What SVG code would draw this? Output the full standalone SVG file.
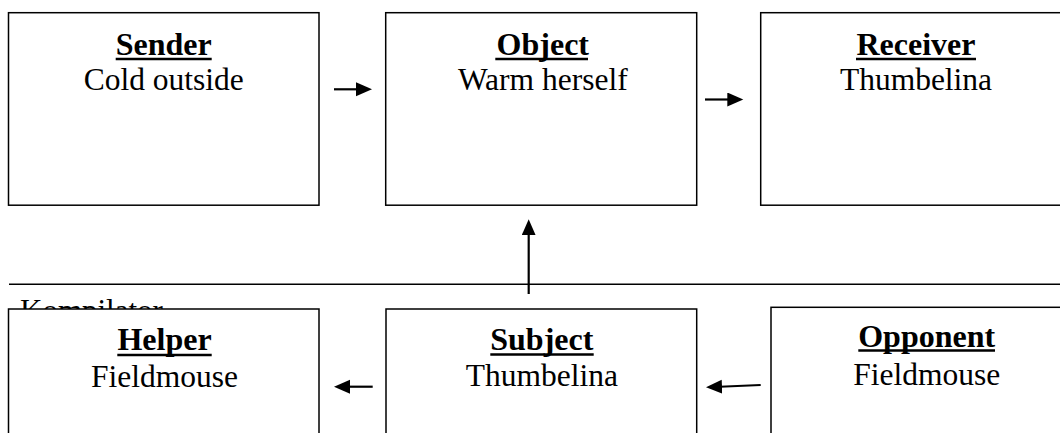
<svg xmlns="http://www.w3.org/2000/svg" width="1060" height="433" viewBox="0 0 1060 433">
  <style>
    .box { fill: #fff; stroke: #000; stroke-width: 1.5; }
    .title { font-family: "Liberation Serif", "Times New Roman", serif; font-weight: bold; font-size: 32px; fill: #000; text-anchor: middle; }
    .body { font-family: "Liberation Serif", "Times New Roman", serif; font-size: 31.5px; fill: #000; text-anchor: middle; }
    .note { font-family: "Liberation Serif", "Times New Roman", serif; font-size: 31px; fill: #000; }
    .ul { stroke: #000; stroke-width: 2.6; }
    .rule { stroke: #000; stroke-width: 1.4; }
    .arrow { stroke: #000; stroke-width: 2.2; fill: none; marker-end: url(#head); }
  </style>
  <defs>
    <marker id="head" markerUnits="userSpaceOnUse" markerWidth="17" markerHeight="15" refX="8" refY="7" orient="auto">
      <path d="M0,0 L16,7 L0,14 Z" fill="#000"/>
    </marker>
  </defs>
  <rect width="1060" height="433" fill="#fff"/>

  <!-- separator between the upper and lower rows -->
  <line class="rule" x1="9" y1="284.3" x2="1060" y2="284.3"/>
  <text class="note" x="20" y="321">Kompilator</text>

  <!-- upper row -->
  <g id="sender">
    <rect class="box" x="8.5" y="12.7" width="310.5" height="192.5"/>
    <text class="title" x="163.7" y="55">Sender</text>
    <line class="ul" x1="115.7" y1="59" x2="211.7" y2="59"/>
    <text class="body" x="163.7" y="90">Cold outside</text>
  </g>
  <g id="object">
    <rect class="box" x="385.7" y="12.7" width="311" height="192.5"/>
    <text class="title" x="542.8" y="55">Object</text>
    <line class="ul" x1="495.3" y1="59" x2="588" y2="59"/>
    <text class="body" x="542.8" y="90">Warm herself</text>
  </g>
  <g id="receiver">
    <rect class="box" x="760.7" y="12.7" width="310.5" height="192.5"/>
    <text class="title" x="916" y="55">Receiver</text>
    <line class="ul" x1="856" y1="59" x2="976" y2="59"/>
    <text class="body" x="916" y="90">Thumbelina</text>
  </g>

  <!-- lower row -->
  <g id="helper">
    <rect class="box" x="8.5" y="309" width="310.5" height="140"/>
    <text class="title" x="164.5" y="350">Helper</text>
    <line class="ul" x1="117.3" y1="355" x2="211.7" y2="355"/>
    <text class="body" x="164.5" y="386.7">Fieldmouse</text>
  </g>
  <g id="subject">
    <rect class="box" x="386" y="309" width="310.7" height="140"/>
    <text class="title" x="541.8" y="350">Subject</text>
    <line class="ul" x1="490.3" y1="354.5" x2="593.7" y2="354.5"/>
    <text class="body" x="541.8" y="385.7">Thumbelina</text>
  </g>
  <g id="opponent">
    <rect class="box" x="771" y="307.3" width="311" height="140"/>
    <text class="title" x="926.7" y="346.5">Opponent</text>
    <line class="ul" x1="858.3" y1="350.5" x2="995" y2="350.5"/>
    <text class="body" x="926.7" y="385">Fieldmouse</text>
  </g>

  <!-- connectors -->
  <g id="connectors">
    <line class="arrow" x1="334" y1="89.3" x2="364" y2="89.3"/>
    <line class="arrow" x1="705" y1="99.5" x2="735.3" y2="99.5"/>
    <line class="arrow" x1="528.7" y1="294" x2="528.7" y2="227.3"/>
    <line class="arrow" x1="372.7" y1="386.7" x2="342" y2="386.7"/>
    <line class="arrow" x1="760.7" y1="385" x2="714" y2="387"/>
  </g>
</svg>
